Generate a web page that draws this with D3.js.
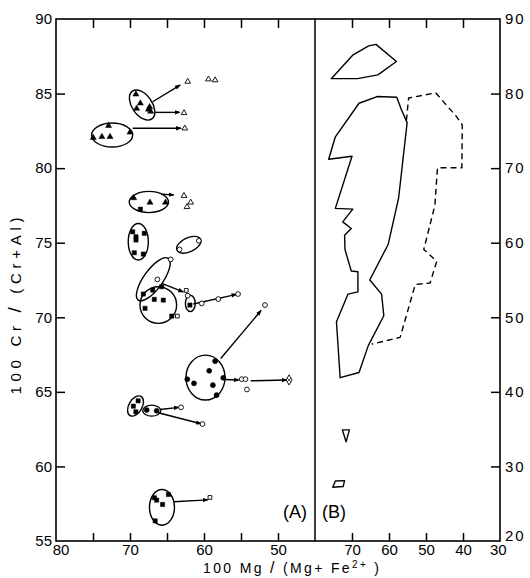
<!DOCTYPE html>
<html>
<head>
<meta charset="utf-8">
<script src="https://cdn.jsdelivr.net/npm/d3@7"></script>
<style>
  body { margin: 0; background: #fff; }
  svg { display: block; font-family: "Liberation Sans", Arial, sans-serif; }
</style>
</head>
<body>
<div id="chart"></div>
<script>
// ---- panel A : core / rim compositions [Mg#, Cr#] ----
const filledTriangles = [
  [69.2, 84.95], [68.6, 84.35], [69.1, 84.0], [67.5, 83.94], [67.2, 83.8], [67.35, 84.1],
  [72.9, 82.84], [74.96, 82.04], [73.8, 82.1], [72.7, 82.1], [70.0, 82.4],
  [69.5, 78.0], [67.3, 77.7], [65.2, 77.7]
];
const filledSquares = [
  [68.6, 77.25],
  [69.64, 75.73], [69.19, 75.4], [69.19, 75.18], [68.07, 75.63], [69.42, 74.33], [68.2, 74.24],
  [68.2, 71.56], [66.93, 71.82], [65.72, 72.05], [66.72, 71.2], [65.5, 71.15], [67.97, 70.6], [64.36, 70.08],
  [61.9, 70.82],
  [68.9, 64.4], [69.55, 64.04], [69.2, 63.66],
  [66.7, 57.9], [66.4, 57.74], [65.6, 57.45], [64.8, 58.12], [66.6, 56.35]
];
const filledCircles = [
  [58.5, 67.06], [59.3, 66.41], [62.26, 65.85], [61.35, 65.57], [58.8, 65.45], [57.4, 65.94], [58.3, 64.78],
  [67.74, 63.78], [66.4, 63.73]
];
const openTriangles = [
  [62.2, 85.8], [59.4, 85.96], [58.5, 85.9], [62.7, 83.7], [62.6, 82.67],
  [62.7, 78.15], [61.8, 77.7], [62.3, 77.4]
];
const openCircles = [
  [60.7, 75.13], [63.3, 74.55], [64.5, 73.88], [66.3, 72.54], [62.2, 71.45],
  [60.3, 70.93], [58.07, 71.22], [55.4, 71.56], [51.76, 70.82],
  [54.9, 65.85], [54.4, 65.85], [54.2, 65.16], [63.1, 63.96], [60.2, 62.84]
];
const openSquares = [[62.4, 71.8], [63.6, 70.08], [59.2, 57.92]];
const openDiamonds = [[48.5, 65.8]];

// tie lines core -> rim [x1, y1, x2, y2]
const tieLines = [
  [66.93, 84.45, 63.24, 85.57],
  [66.6, 83.74, 63.3, 83.74],
  [69.64, 82.67, 63.1, 82.67],
  [65.72, 78.26, 64.1, 78.2],
  [65.72, 72.27, 62.8, 71.7],
  [61.45, 70.89, 55.6, 71.54],
  [57.74, 67.24, 52.3, 70.45],
  [57.39, 65.83, 55.3, 65.8],
  [53.69, 65.74, 48.8, 65.8],
  [65.95, 63.82, 63.4, 63.96],
  [66.18, 63.6, 60.4, 62.86],
  [64.05, 57.63, 59.5, 57.76]
];

// grain fields: major axis end points [x1, y1, x2, y2] and minor/major ratio
const fields = [
  [69.68, 85.16, 67.04, 83.3, 0.59],
  [75.18, 82.22, 69.64, 82.22, 0.585],
  [70.1, 77.73, 64.8, 77.73, 0.54],
  [68.88, 76.29, 68.88, 73.84, 0.55],
  [63.65, 74.49, 60.46, 75.23, 0.54],
  [64.82, 73.95, 68.88, 71.15, 0.37],
  [68.65, 70.82, 63.7, 70.82, 1.0],
  [61.85, 71.48, 61.85, 70.38, 0.6],
  [59.8, 67.46, 59.8, 64.45, 0.87],
  [70.0, 63.41, 68.51, 64.69, 0.6],
  [68.28, 63.74, 65.85, 63.74, 0.61],
  [65.68, 58.45, 65.68, 56.06, 0.7]
];

// ---- panel B : outlines [Mg#, Cr#] ----
const outlineTop = [[75.6, 82.0], [69.7, 85.2], [65.5, 86.4], [63.5, 86.6], [58.0, 84.3], [63.0, 82.5], [68.5, 82.0]];
const outlineMain = [
  [68.1, 78.7], [63.2, 79.6], [57.9, 79.5], [56.7, 77.9], [55.1, 76.1], [57.4, 66.0], [60.2, 59.8],
  [65.2, 55.0], [62.0, 53.1], [61.4, 50.2], [65.6, 46.2], [68.1, 42.6], [73.2, 41.9], [74.2, 49.4],
  [71.1, 53.1], [68.4, 53.4], [68.4, 56.1], [70.2, 56.2], [71.9, 59.1], [72.0, 61.0], [70.2, 61.9],
  [72.5, 62.8], [69.8, 64.5], [74.5, 64.6], [70.0, 71.6], [76.3, 71.2], [74.5, 74.2]
];
const outlineDashed = [
  [55.3, 76.4], [54.7, 79.4], [47.4, 80.1], [41.9, 77.0], [40.2, 75.8], [40.3, 70.05], [46.9, 70.05],
  [47.6, 65.0], [50.6, 59.1], [47.1, 57.5], [48.9, 54.6], [52.9, 54.4], [57.0, 47.3], [64.7, 46.4]
];
const outlineSmallTri = [[72.6, 34.9], [70.7, 34.9], [71.6, 33.3]];
const outlineSmallBox = [[74.5, 28.05], [72.0, 28.1], [72.4, 27.3], [75.2, 27.2]];

// ---- axes ----
const xTicksA = [80, 75, 70, 65, 60, 55, 50];
const xLabelsA = [80, 70, 60, 50];
const xTicksB = [70, 60, 50, 40, 30];
const yTicksA = [90, 85, 80, 75, 70, 65, 60, 55];
const yTicksB = [90, 80, 70, 60, 50, 40, 30, 20];

const width = 530, height = 578;
const m = { left: 56, right: 500, top: 19, bottom: 541, split: 315 };

const svg = d3.select("#chart").append("svg")
  .attr("width", width)
  .attr("height", height);

const xA = d3.scaleLinear().domain([80, 45]).range([m.left, m.split]);
const xB = d3.scaleLinear().domain([80, 30]).range([m.split, m.right]);
const yA = d3.scaleLinear().domain([55, 90]).range([m.bottom, m.top]);
const yB = d3.scaleLinear().domain([20, 90]).range([m.bottom, m.top]);

function styleAxis(g) {
  g.select(".domain").remove();
  g.selectAll(".tick line").attr("stroke", "#000").attr("stroke-width", 1.5);
  g.selectAll(".tick text").attr("fill", "#000").style("font-size", "15px")
    .style("font-family", "'Liberation Sans', Arial, sans-serif");
}

// left axis
svg.append("g")
  .attr("transform", `translate(${m.left},0)`)
  .call(d3.axisLeft(yA).tickValues(yTicksA).tickSize(-9).tickPadding(4))
  .call(styleAxis)
  .call(g => g.selectAll(".tick").filter(d => d === 90 || d === 55).select("line").remove());

// right axis
svg.append("g")
  .attr("transform", `translate(${m.right},0)`)
  .call(d3.axisRight(yB).tickValues(yTicksB).tickSize(-9).tickPadding(5))
  .call(styleAxis)
  .call(g => g.selectAll(".tick text").style("letter-spacing", "2px"))
  .call(g => g.selectAll(".tick").filter(d => d === 90 || d === 20).select("line").remove())
  .call(g => g.selectAll(".tick").filter(d => d === 20).select("text").attr("dy", "-0.05em"));

// bottom axes
svg.append("g")
  .attr("transform", `translate(0,${m.bottom})`)
  .call(d3.axisBottom(xA).tickValues(xTicksA).tickSize(-8).tickPadding(3)
    .tickFormat(d => xLabelsA.includes(d) ? d : ""))
  .call(styleAxis)
  .call(g => g.selectAll(".tick").filter(d => d === 80).select("line").remove())
  .call(g => g.selectAll(".tick").filter(d => d === 80).select("text").attr("dx", "0.3em"));

svg.append("g")
  .attr("transform", `translate(0,${m.bottom})`)
  .call(d3.axisBottom(xB).tickValues(xTicksB).tickSize(-8).tickPadding(3))
  .call(styleAxis)
  .call(g => g.selectAll(".tick").filter(d => d === 30).select("line").remove())
  .call(g => g.selectAll(".tick").filter(d => d === 30).select("text").attr("dx", "-0.15em"));

// top ticks
svg.append("g")
  .attr("transform", `translate(0,${m.top})`)
  .call(d3.axisTop(xA).tickValues(xTicksA.filter(d => d !== 80)).tickSize(-9).tickFormat(""))
  .call(styleAxis);
svg.append("g")
  .attr("transform", `translate(0,${m.top})`)
  .call(d3.axisTop(xB).tickValues(xTicksB.filter(d => d !== 30)).tickSize(-9).tickFormat(""))
  .call(styleAxis);

// frame + divider
svg.append("rect")
  .attr("x", m.left).attr("y", m.top)
  .attr("width", m.right - m.left).attr("height", m.bottom - m.top)
  .attr("fill", "none").attr("stroke", "#000").attr("stroke-width", 1.6);
svg.append("line")
  .attr("x1", m.split).attr("x2", m.split).attr("y1", m.top).attr("y2", m.bottom)
  .attr("stroke", "#000").attr("stroke-width", 1.5);

// ---- panel A marks ----
const gA = svg.append("g");

svg.append("defs").append("marker")
  .attr("id", "arrow")
  .attr("viewBox", "0 -3 6 6")
  .attr("refX", 5).attr("refY", 0)
  .attr("markerUnits", "userSpaceOnUse")
  .attr("markerWidth", 6).attr("markerHeight", 6)
  .attr("orient", "auto")
  .append("path").attr("d", "M0,-2.2L6,0L0,2.2Z").attr("fill", "#000");

gA.selectAll(".field")
  .data(fields)
  .enter().append("ellipse")
  .attr("class", "field")
  .each(function(d) {
    const x1 = xA(d[0]), y1 = yA(d[1]), x2 = xA(d[2]), y2 = yA(d[3]);
    const cx = (x1 + x2) / 2, cy = (y1 + y2) / 2;
    const a = Math.hypot(x2 - x1, y2 - y1) / 2;
    const ang = Math.atan2(y2 - y1, x2 - x1) * 180 / Math.PI;
    d3.select(this)
      .attr("cx", cx).attr("cy", cy)
      .attr("rx", a).attr("ry", a * d[4])
      .attr("transform", `rotate(${ang},${cx},${cy})`);
  })
  .attr("fill", "none")
  .attr("stroke", "#000")
  .attr("stroke-width", 1.4);

gA.selectAll(".tie")
  .data(tieLines)
  .enter().append("line")
  .attr("class", "tie")
  .attr("x1", d => xA(d[0])).attr("y1", d => yA(d[1]))
  .attr("x2", d => xA(d[2])).attr("y2", d => yA(d[3]))
  .attr("stroke", "#000")
  .attr("stroke-width", 1.4)
  .attr("marker-end", "url(#arrow)");

function drawSymbols(data, type, size, filled) {
  gA.selectAll(null)
    .data(data)
    .enter().append("path")
    .attr("d", d3.symbol().type(type).size(size))
    .attr("transform", d => `translate(${xA(d[0])},${yA(d[1])})`)
    .attr("fill", filled ? "#000" : "#fff")
    .attr("stroke", "#000")
    .attr("stroke-width", filled ? 0.5 : 0.9);
}
drawSymbols(filledTriangles, d3.symbolTriangle, 16, true);
drawSymbols(filledSquares, d3.symbolSquare, 18, true);
drawSymbols(filledCircles, d3.symbolCircle, 20, true);
drawSymbols(openTriangles, d3.symbolTriangle, 14, false);
drawSymbols(openCircles, d3.symbolCircle, 18, false);
drawSymbols(openSquares, d3.symbolSquare, 14, false);
drawSymbols(openDiamonds, d3.symbolDiamond, 30, false);
gA.selectAll(null)
  .data(openDiamonds)
  .enter().append("path")
  .attr("d", "M-2,-2L2,2M-2,2L2,-2")
  .attr("transform", d => `translate(${xA(d[0])},${yA(d[1])})`)
  .attr("stroke", "#000").attr("stroke-width", 0.7);

// ---- panel B outlines ----
const lineB = d3.line().x(d => xB(d[0])).y(d => yB(d[1]));
const gB = svg.append("g")
  .attr("fill", "none").attr("stroke", "#000").attr("stroke-width", 1.4)
  .attr("stroke-linejoin", "round");
gB.append("path").attr("d", lineB(outlineTop) + "Z");
gB.append("path").attr("d", lineB(outlineMain) + "Z");
gB.append("path").attr("d", lineB(outlineDashed)).attr("stroke-dasharray", "6,4");
gB.append("path").attr("d", lineB(outlineSmallTri) + "Z");
gB.append("path").attr("d", lineB(outlineSmallBox) + "Z");

// panel labels
svg.append("text")
  .attr("x", m.split - 20).attr("y", 518)
  .attr("text-anchor", "middle")
  .style("font-size", "18px")
  .text("(A)");
svg.append("text")
  .attr("x", m.split + 19).attr("y", 518)
  .attr("text-anchor", "middle")
  .style("font-size", "18px")
  .text("(B)");

// axis titles
const xTitle = svg.append("text")
  .attr("x", 291).attr("y", 573)
  .attr("text-anchor", "middle")
  .attr("textLength", 176)
  .attr("lengthAdjust", "spacing")
  .style("font-size", "14px");
xTitle.append("tspan").text("100 Mg ");
xTitle.append("tspan").style("font-size", "16px").text("/");
xTitle.append("tspan").text(" (Mg+ Fe");
xTitle.append("tspan").attr("dy", -5).style("font-size", "10px").text("2+");
xTitle.append("tspan").attr("dy", 5).text(" )");

const yTitle = svg.append("text")
  .attr("transform", "translate(21,306) rotate(-90)")
  .attr("text-anchor", "middle")
  .attr("textLength", 177)
  .attr("lengthAdjust", "spacing")
  .style("font-size", "15px");
yTitle.append("tspan").text("100  Cr ");
yTitle.append("tspan").style("font-size", "19px").text("/");
yTitle.append("tspan").text(" (Cr+Al)");
</script>
</body>
</html>
